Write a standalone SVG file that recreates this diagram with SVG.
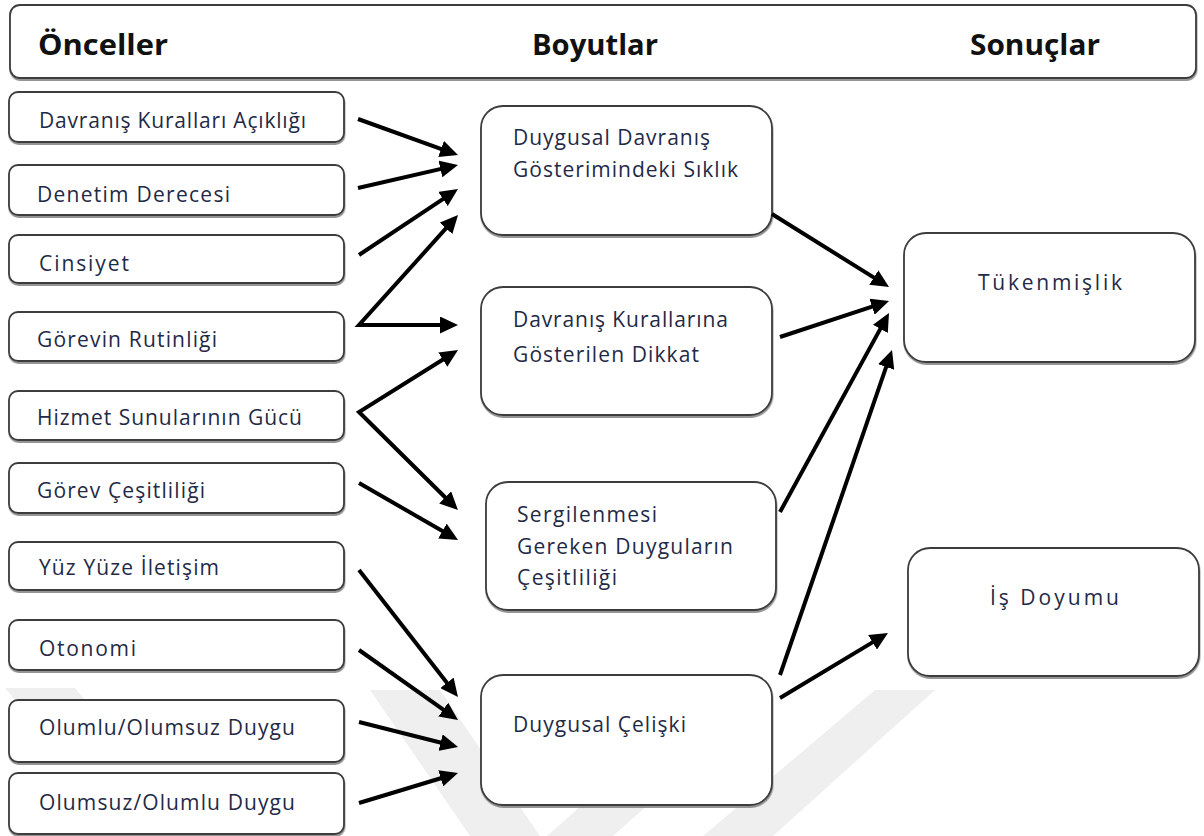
<svg xmlns="http://www.w3.org/2000/svg" width="1204" height="836" viewBox="0 0 1204 836">
  <defs>
    <style>
      .box { fill: #ffffff; stroke: #3c3c3c; stroke-width: 1.8; filter: url(#shadow); }
      .hdr { font-family: "Open Sans", "Liberation Sans", sans-serif; font-weight: bold; font-size: 29px; fill: #111111; }
      .lbl { font-family: "Open Sans", "Liberation Sans", sans-serif; font-weight: 500; font-size: 21px; fill: #1f2a46; }
      .conn { fill: none; stroke: #000000; stroke-width: 4; stroke-linejoin: miter; marker-end: url(#head); }
      .wm { fill: #efefef; }
    </style>
    <filter id="shadow" x="-5%" y="-10%" width="110%" height="125%">
      <feDropShadow dx="0.5" dy="2" stdDeviation="0.7" flood-color="#7a7a7a" flood-opacity="0.8"/>
    </filter>
    <marker id="head" markerUnits="userSpaceOnUse" markerWidth="18" markerHeight="17" refX="13" refY="8.5" orient="auto-start-reverse">
      <path d="M0,0 L18,8.5 L0,17 z" fill="#000000"/>
    </marker>
  </defs>

  <rect width="1204" height="836" fill="#ffffff"/>

  <!-- faint background emblem -->
  <g id="emblem">
    <polygon class="wm" points="5,688 75,688 85,700 15,700"/>
    <polygon class="wm" points="370,690 440,690 540,836 470,836"/>
    <polygon class="wm" points="700,700 766,700 613,836 547,836"/>
    <polygon class="wm" points="875,690 935,690 773,836 703,836"/>
  </g>

  <!-- column headings -->
  <g id="header">
    <rect class="box" x="10" y="5" width="1186" height="73" rx="10"/>
    <text class="hdr" x="38" y="55" textLength="130" lengthAdjust="spacingAndGlyphs">Önceller</text>
    <text class="hdr" x="532" y="55" textLength="126" lengthAdjust="spacingAndGlyphs">Boyutlar</text>
    <text class="hdr" x="970" y="55" textLength="130" lengthAdjust="spacingAndGlyphs">Sonuçlar</text>
  </g>

  <!-- antecedents -->
  <g id="n-kurallar-acikligi">
    <rect class="box" x="9" y="92" width="335" height="50" rx="9"/>
    <text class="lbl" x="39" y="128" textLength="267">Davranış Kuralları Açıklığı</text>
  </g>
  <g id="n-denetim">
    <rect class="box" x="9" y="165" width="335" height="50" rx="9"/>
    <text class="lbl" x="37" y="202" textLength="193">Denetim Derecesi</text>
  </g>
  <g id="n-cinsiyet">
    <rect class="box" x="9" y="235" width="335" height="48" rx="9"/>
    <text class="lbl" x="39" y="271" textLength="90">Cinsiyet</text>
  </g>
  <g id="n-rutinlik">
    <rect class="box" x="9" y="312" width="335" height="49" rx="9"/>
    <text class="lbl" x="37" y="347" textLength="180">Görevin Rutinliği</text>
  </g>
  <g id="n-hizmet">
    <rect class="box" x="9" y="391" width="335" height="49" rx="9"/>
    <text class="lbl" x="37" y="425" textLength="265">Hizmet Sunularının Gücü</text>
  </g>
  <g id="n-cesitlilik">
    <rect class="box" x="9" y="463" width="335" height="50" rx="9"/>
    <text class="lbl" x="37" y="498" textLength="168">Görev Çeşitliliği</text>
  </g>
  <g id="n-yuzyuze">
    <rect class="box" x="9" y="542" width="335" height="48" rx="9"/>
    <text class="lbl" x="39" y="575" textLength="180">Yüz Yüze İletişim</text>
  </g>
  <g id="n-otonomi">
    <rect class="box" x="9" y="620" width="335" height="50" rx="9"/>
    <text class="lbl" x="39" y="656" textLength="97">Otonomi</text>
  </g>
  <g id="n-olumlu-olumsuz">
    <rect class="box" x="9" y="700" width="335" height="62" rx="9"/>
    <text class="lbl" x="39" y="735" textLength="256">Olumlu/Olumsuz Duygu</text>
  </g>
  <g id="n-olumsuz-olumlu">
    <rect class="box" x="9" y="773" width="335" height="61" rx="9"/>
    <text class="lbl" x="39" y="810" textLength="256">Olumsuz/Olumlu Duygu</text>
  </g>

  <!-- dimensions -->
  <g id="d-siklik">
    <rect class="box" x="481" y="106" width="291" height="129" rx="22"/>
    <text class="lbl" x="513" y="145" textLength="197">Duygusal Davranış</text>
    <text class="lbl" x="513" y="177" textLength="225">Gösterimindeki Sıklık</text>
  </g>
  <g id="d-dikkat">
    <rect class="box" x="481" y="287" width="291" height="128" rx="22"/>
    <text class="lbl" x="513" y="327" textLength="215">Davranış Kurallarına</text>
    <text class="lbl" x="513" y="362" textLength="186">Gösterilen Dikkat</text>
  </g>
  <g id="d-cesitlilik">
    <rect class="box" x="486" y="482" width="290" height="128" rx="22"/>
    <text class="lbl" x="517" y="522" textLength="140">Sergilenmesi</text>
    <text class="lbl" x="517" y="554" textLength="216">Gereken Duyguların</text>
    <text class="lbl" x="517" y="585" textLength="100">Çeşitliliği</text>
  </g>
  <g id="d-celiski">
    <rect class="box" x="481" y="675" width="291" height="130" rx="22"/>
    <text class="lbl" x="513" y="732" textLength="173">Duygusal Çelişki</text>
  </g>

  <!-- outcomes -->
  <g id="s-tukenmislik">
    <rect class="box" x="904" y="233" width="291" height="129" rx="22"/>
    <text class="lbl" x="978" y="290" textLength="144">Tükenmişlik</text>
  </g>
  <g id="s-is-doyumu">
    <rect class="box" x="908" y="548" width="291" height="128" rx="22"/>
    <text class="lbl" x="990" y="605" textLength="129">İş Doyumu</text>
  </g>

  <!-- connectors -->
  <g id="connectors">
    <path class="conn" d="M358,119 L453.3,153.3"/>
    <path class="conn" d="M358,188 L453.1,166.1"/>
    <path class="conn" d="M359,255 L453.8,191.8"/>
    <path class="conn" style="marker-start:url(#head)" d="M454.7,218.7 L359,325 L453,325"/>
    <path class="conn" style="marker-start:url(#head)" d="M453.8,352.7 L359,412 L454.4,506.5"/>
    <path class="conn" d="M359,483 L453.7,537.5"/>
    <path class="conn" d="M359,570 L454.9,693.1"/>
    <path class="conn" d="M359,650 L453.9,717.1"/>
    <path class="conn" d="M359,722 L453.2,745.8"/>
    <path class="conn" d="M359,803 L453.2,774.5"/>
    <path class="conn" d="M772,214 L884.8,284.4"/>
    <path class="conn" d="M780,337 L884.3,302.6"/>
    <path class="conn" d="M780,512 L886.6,317.4"/>
    <path class="conn" d="M780,675 L890.4,354.7"/>
    <path class="conn" d="M780,698 L883.7,635.6"/>
  </g>
</svg>
